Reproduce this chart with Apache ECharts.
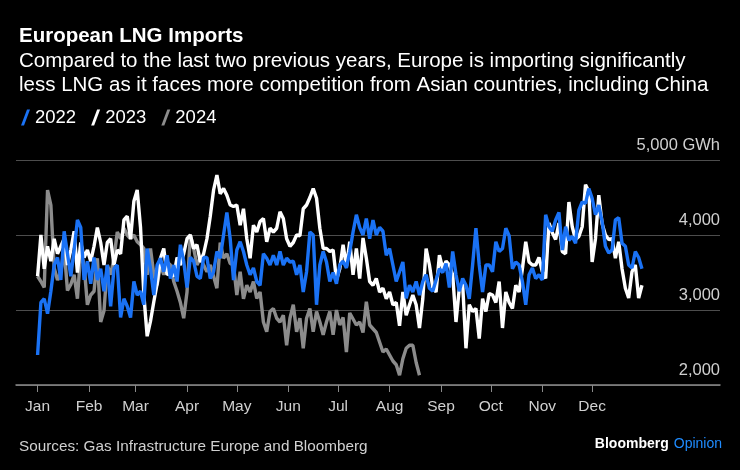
<!DOCTYPE html>
<html>
<head>
<meta charset="utf-8">
<script src="https://cdn.jsdelivr.net/npm/echarts@6/dist/echarts.min.js"></script>
<style>
html,body{margin:0;padding:0;background:#000;}
#chart{width:740px;height:470px;}
</style>
</head>
<body>
<div id="chart"></div>
<script>
// Day-of-year sampling step for the value arrays below (values every 2 days from Jan 1)
const STEP = 2;
const monthStarts = [0,31,59,90,120,151,181,212,243,273,304,334];
const monthLabels = ['Jan','Feb','Mar','Apr','May','Jun','Jul','Aug','Sep','Oct','Nov','Dec'];
const yTicks = [2000,3000,4000,5000];
const seriesNames = ['2022','2023','2024'];

const v2022 = [2400,3100,3150,2950,3250,3600,3700,3400,4050,3750,
3450,3800,4200,4100,3400,3650,3350,3700,3400,3550,
3250,3600,3050,3550,3600,2900,3150,3050,2900,3380,
3200,3250,3070,3820,3550,3200,3600,3690,3510,3730,
3420,3600,3380,3870,3650,3300,3700,3650,3450,3420,
3700,3700,3420,3510,3780,3690,4000,4300,3950,3400,
3800,3910,3780,3600,3470,3560,3380,3330,3750,3690,
3600,3730,3600,3780,3600,3690,3640,3650,3470,3600,
3240,3510,4040,4000,3070,3600,3780,3640,3380,3500,
3350,3600,3650,3560,3780,4040,4270,4100,4000,4220,
3950,4200,4000,4100,4050,3730,3820,3600,3380,3510,
3640,3155,3330,3240,3380,3200,3380,3470,3290,3250,
3400,3550,3500,3620,3300,3780,3470,3250,3420,3330,
3150,3600,4090,3600,3240,3600,3600,3510,3910,3780,
3820,4090,3990,3550,3640,3600,3380,3070,3470,3560,
3420,3470,3400,4270,4110,4050,4200,4300,3800,4110,
3930,3980,3890,4330,4440,4420,4620,4490,4270,4400,
4180,3850,3760,3800,4200,4230,3890,3850,3600,3560,
3780,3700,3550];

const v2023 = [3450,4000,3550,3850,3650,3950,3750,3850,3950,3600,
3800,4050,3500,3900,3700,3800,3650,3850,4100,3900,
3600,3900,3950,3600,3800,3750,4200,4250,3950,4450,
4600,4100,3200,2650,2850,3110,3350,3690,3820,3470,
3500,3450,3700,3600,3750,3950,4000,3820,3870,3640,
3750,3950,4250,4600,4800,4550,4620,4530,4400,4380,
4400,4130,4350,3950,3690,4130,4040,4180,4220,3910,
4090,4040,4090,4310,4220,3950,3850,3900,4000,3990,
4350,4400,4500,4620,4490,4090,3820,3820,3780,3800,
3400,3550,3870,3580,3910,3470,3820,3420,3960,3690,
3380,3330,3420,3240,3290,3150,3240,3070,3100,2790,
3240,2930,3070,3200,3070,2760,3150,3820,3600,3300,
3240,3730,3550,3650,3600,3470,2840,3290,3350,2490,
3070,2980,3020,2620,3150,2980,3220,3200,3100,3380,
2760,3240,3100,3020,3330,3240,3550,3910,3640,3600,
3600,3700,3510,3420,4160,4030,3940,4160,3780,3750,
4440,4110,3940,3980,4110,4670,4580,3640,3950,4530,
4150,4000,3940,3950,3690,3910,3550,3290,3160,3510,
3600,3160,3330];

const v2024 = [3450,3380,3300,4600,4400,3560,3400,3500,3820,3260,
3340,3470,3150,3780,3600,3070,3200,3250,3690,2840,
2990,3600,3470,3690,4040,3950,4090,4000,3950,4000,
3910,3870,3820,3470,3820,3470,3330,3600,3470,3640,
3600,3380,3250,3100,2890,3240,4000,3820,3600,3690,
3600,3510,3600,3450,3290,3900,3690,3750,3620,3600,
3200,3510,3150,3330,3240,3380,3155,3240,2840,2710,
2980,3020,2890,2840,2930,2530,2890,3070,2710,2890,
2490,2890,3020,2710,2980,2840,2670,2840,2980,2670,
3000,2800,2900,2440,2960,2880,2800,2840,2700,3110,
2800,2750,2700,2570,2440,2480,2400,2320,2270,2130,
2350,2490,2530,2530,2300,2130];

const toPairs = arr => arr.map((v, i) => [i * STEP, v]);
const FONT = '"Liberation Sans", Arial, Helvetica, sans-serif';
const slash = 'path://M0,16 L6,0 L9,0 L3,16 Z';

const chart = echarts.init(document.getElementById('chart'), null, {renderer: 'canvas'});
chart.setOption({
  backgroundColor: '#000',
  animation: false,
  textStyle: {fontFamily: FONT},
  title: [
    {text: 'European LNG Imports', left: 14, top: 21,
     textStyle: {color: '#fff', fontSize: 20.5, fontWeight: 'bold', fontFamily: FONT}},
    {text: 'Compared to the last two previous years, Europe is importing significantly\nless LNG as it faces more competition from Asian countries, including China',
     left: 14, top: 44,
     textStyle: {color: '#fff', fontSize: 20.5, fontWeight: 'normal', lineHeight: 24, fontFamily: FONT}},
    {text: 'Sources: Gas Infrastructure Europe and Bloomberg', left: 14, top: 434,
     textStyle: {color: '#d0d0d0', fontSize: 15.3, fontWeight: 'normal', fontFamily: FONT}},
    {text: '{b|Bloomberg} {o|Opinion}', right: 13, top: 430,
     textStyle: {rich: {
       b: {color: '#fff', fontSize: 14, fontWeight: 'bold', fontFamily: FONT},
       o: {color: '#1f8cff', fontSize: 14, fontWeight: 'normal', fontFamily: FONT}
     }}}
  ],
  legend: {
    data: seriesNames, left: 16, top: 103, icon: slash,
    itemWidth: 9, itemHeight: 16, itemGap: 15,
    textStyle: {color: '#fff', fontSize: 18.5, fontFamily: FONT}
  },
  grid: {left: 16, right: 20, top: 160, bottom: 85, containLabel: false},
  xAxis: {
    type: 'value', min: -13, max: 411,
    splitLine: {show: false},
    axisLine: {show: true, lineStyle: {color: '#8a8a8a', width: 1.5}},
    axisTick: {show: true, customValues: monthStarts, length: 7, lineStyle: {color: '#8a8a8a'}},
    axisLabel: {customValues: monthStarts, color: '#d0d0d0', fontSize: 15.5, margin: 14,
      formatter: v => monthLabels[monthStarts.indexOf(v)] || ''}
  },
  yAxis: {
    type: 'value', position: 'right', min: 2000, max: 5000, interval: 1000,
    axisLine: {show: false}, axisTick: {show: false},
    splitLine: {lineStyle: {color: '#4d4d4d', width: 1}},
    axisLabel: {inside: true, margin: 0, color: '#d0d0d0', fontSize: 16.5,
      verticalAlign: 'bottom', padding: [0, 0, 6, 0], showMinLabel: true, showMaxLabel: true,
      formatter: v => yTicks.includes(v) ? (v.toLocaleString('en-US') + (v === 5000 ? ' GWh' : '')) : ''}
  },
  series: [
    {name: '2024', type: 'line', data: toPairs(v2024), color: '#8c8c8c', showSymbol: false,
     lineStyle: {width: 3.4, color: '#8c8c8c'}, z: 1},
    {name: '2023', type: 'line', data: toPairs(v2023), color: '#ffffff', showSymbol: false,
     lineStyle: {width: 3.4, color: '#ffffff'}, z: 2},
    {name: '2022', type: 'line', data: toPairs(v2022), color: '#1a72f5', showSymbol: false,
     lineStyle: {width: 3.4, color: '#1a72f5'}, z: 3}
  ]
});
</script>
</body>
</html>
